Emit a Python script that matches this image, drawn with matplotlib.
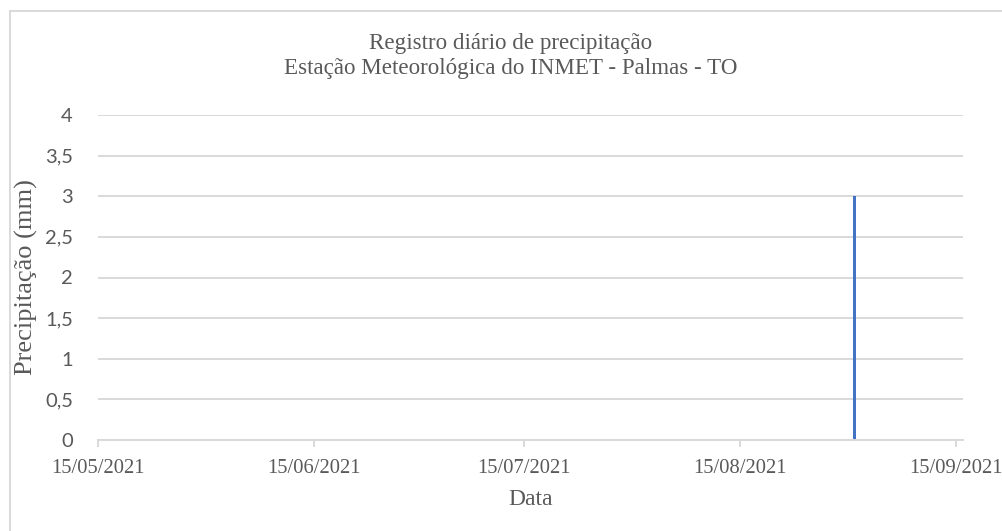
import numpy as np
import matplotlib
matplotlib.use('Agg')
import matplotlib.pyplot as plt
import matplotlib.dates as mdates
from matplotlib.patches import Rectangle
from matplotlib.ticker import FuncFormatter
from datetime import datetime, timedelta

# daily record: only one day with rain in the period, every other day = 0 mm
rain_dates = ['2021-08-31']
rain_mm = [3.0]

x_ticks = ['2021-05-15', '2021-06-15', '2021-07-15', '2021-08-15', '2021-09-15']
x_start = '2021-05-15'
x_end = '2021-09-16'
y_ticks = [0, 0.5, 1, 1.5, 2, 2.5, 3, 3.5, 4]

title = 'Registro diário de precipitação\nEstação Meteorológica do INMET - Palmas - TO'
xlabel = 'Data'
ylabel = 'Precipitação (mm)'

grid_c = '#D9D9D9'
text_c = '#595959'
bar_c = '#4472C4'

def to_dt(s):
    return datetime.strptime(s, '%Y-%m-%d')

fig = plt.figure(figsize=(10.03, 5.31), dpi=100)
ax = fig.add_axes([98/1003, 1 - 440/531, 865/1003, 325/531])

# excel date axis: each day is a slot, column centred in it
xs = [to_dt(d) + timedelta(hours=12) for d in rain_dates]
ax.bar(xs, rain_mm, width=0.42, color=bar_c, zorder=2)

ax.set_xlim(to_dt(x_start), to_dt(x_end))
ax.set_ylim(0, 4)
ax.set_xticks([to_dt(d) for d in x_ticks])
ax.xaxis.set_major_formatter(mdates.DateFormatter('%d/%m/%Y'))
ax.set_yticks(y_ticks)
ax.yaxis.set_major_formatter(FuncFormatter(lambda v, p: ('%g' % v).replace('.', ',')))

ax.grid(axis='y', color=grid_c, lw=1.4, zorder=0)
ax.set_axisbelow(True)
for s in ['top', 'right', 'left']:
    ax.spines[s].set_visible(False)
ax.spines['bottom'].set_color(grid_c)
ax.spines['bottom'].set_linewidth(1.4)
ax.spines['bottom'].set_zorder(3)

ax.tick_params(axis='x', direction='out', length=5, width=1.4, color=grid_c,
               pad=9, labelcolor=text_c, labelsize=14.8)
ax.tick_params(axis='y', length=0, pad=18, labelcolor=text_c, labelsize=14.5)
for lab in ax.get_xticklabels():
    lab.set_fontfamily('Liberation Serif')
for lab in ax.get_yticklabels():
    lab.set_fontfamily(['Lato', 'DejaVu Sans'])

ax.set_xlabel(xlabel, fontsize=17, color=text_c, family='Liberation Serif')
ax.xaxis.set_label_coords(0.5, -0.15)
ax.set_ylabel(ylabel, fontsize=19, color=text_c, family='Liberation Serif')
ax.yaxis.set_label_coords(-0.069, 0.5)

fig.text(511/1003, 1 - 56/531, title, ha='center', va='center', fontsize=16.6,
         color=text_c, family='Liberation Serif', linespacing=1.2)

# chart area border (only top and left show inside the picture)
fig.patches.append(Rectangle((10/1003, -0.2), 1.2, 1.2 - 10.5/531, transform=fig.transFigure,
                             fill=False, edgecolor=grid_c, lw=1.4))

fig.savefig('out.png', dpi=100)
